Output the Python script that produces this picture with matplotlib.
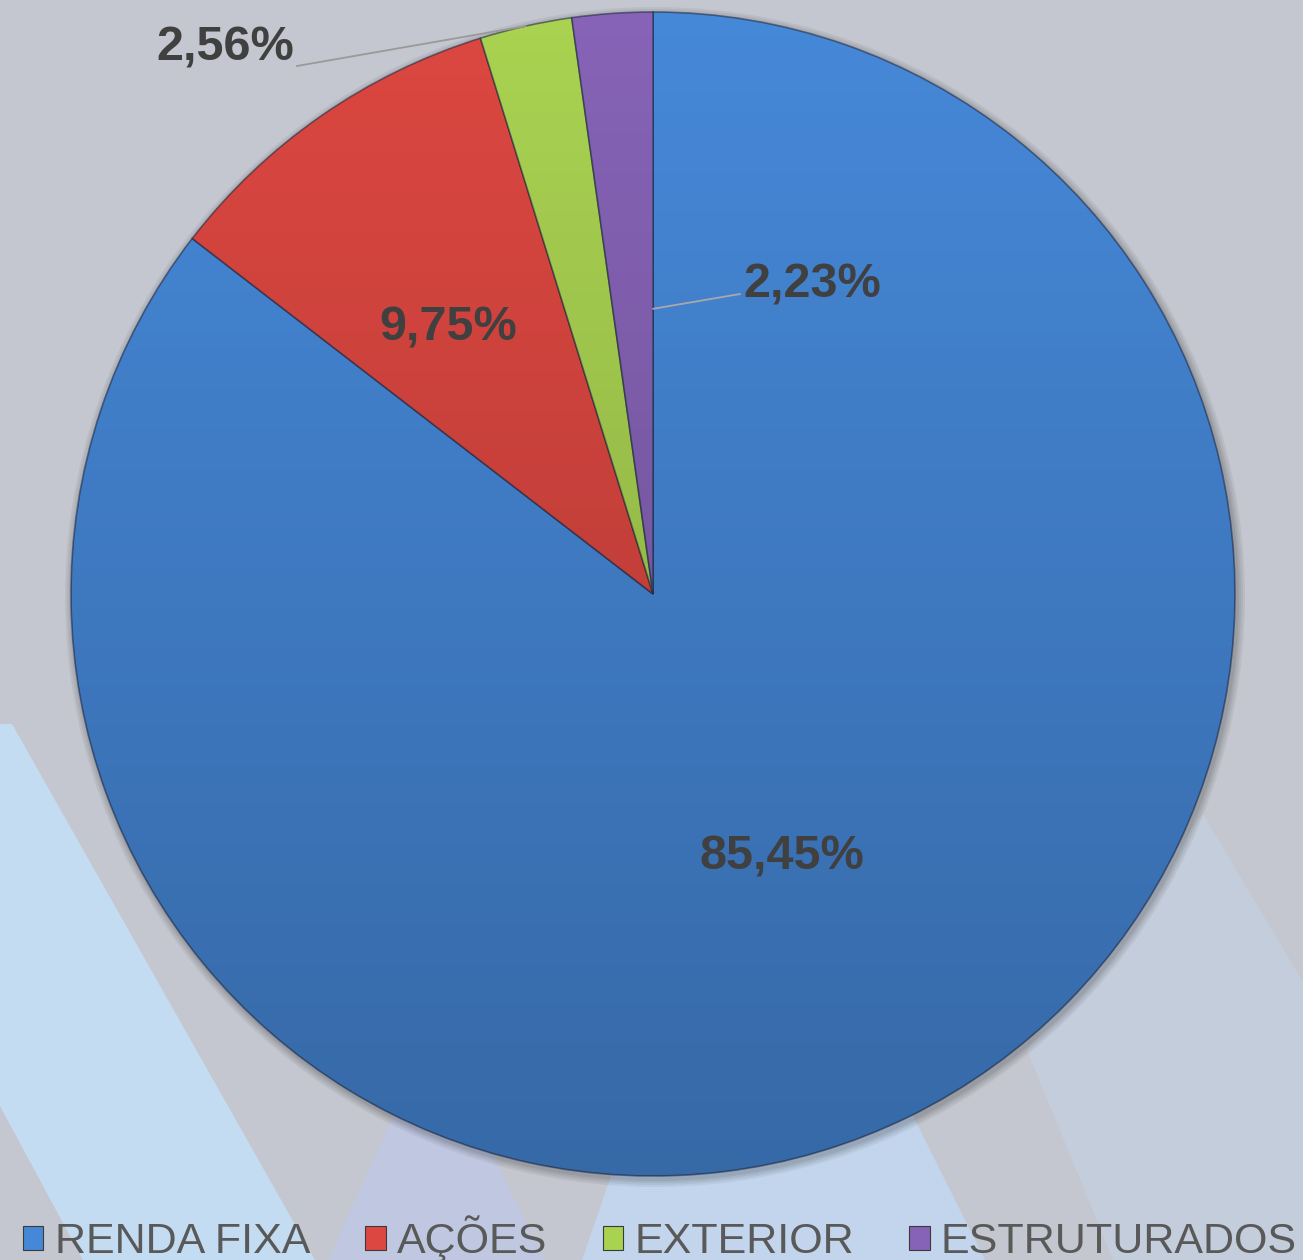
import numpy as np
import matplotlib
matplotlib.use("Agg")
import matplotlib.pyplot as plt
from matplotlib.patches import Polygon, Circle, Rectangle

# ---- data ----
categories = ["RENDA FIXA", "AÇÕES", "EXTERIOR", "ESTRUTURADOS"]
values = [85.45, 9.75, 2.56, 2.23]
value_labels = ["85,45%", "9,75%", "2,56%", "2,23%"]

# ---- style ----
colors = ["#4688d8", "#dc4741", "#a9d251", "#8663b6"]
bg = "#c4c7cf"
W, H = 1303, 1260
plt.rcParams["font.family"] = ["Liberation Sans", "DejaVu Sans"]

fig = plt.figure(figsize=(W / 100, H / 100), dpi=100, facecolor=bg)
ax = fig.add_axes([0, 0, 1, 1])
ax.set_facecolor(bg)

def flip(pts):
    return [(x, H - y) for x, y in pts]

# decorative background stripes
stripes = [
    ([(0, 724), (12, 724), (315, 1260), (83, 1260), (0, 1106)], "#c4dcf2"),
    ([(410, 1080), (455, 1080), (545, 1260), (328, 1260)], "#c0c8e1"),
    ([(620, 1150), (900, 1090), (985, 1260), (582, 1260)], "#c2d5ec"),
    ([(1027, 1050), (1203, 814), (1303, 982), (1303, 1260), (1113, 1260)], "#c4cddb"),
]
for pts, c in stripes:
    ax.add_patch(Polygon(flip(pts), closed=True, facecolor=c, edgecolor="none", zorder=0))

cx, cy, R = 653, H - 594, 582

# soft shadow
for i, a in enumerate([0.05, 0.05, 0.06, 0.07]):
    ax.add_patch(Circle((cx + 2, cy - 3), R + 8 - 2 * i, facecolor="black",
                        alpha=a, edgecolor="none", zorder=1))

wedges, _ = ax.pie(values, colors=colors, startangle=90, counterclock=False,
                   center=(cx, cy), radius=R,
                   wedgeprops=dict(edgecolor=(0.1, 0.15, 0.25, 0.55), linewidth=1.2))
for w in wedges:
    w.set_zorder(2)

# vertical shading gradient over the pie
grad = np.zeros((256, 2, 4))
grad[:, :, 3] = np.linspace(0.0, 0.23, 256)[:, None]
im = ax.imshow(grad, extent=(cx - R, cx + R, cy - R, cy + R), origin="upper",
               zorder=3, interpolation="bilinear")
clip = Circle((cx, cy), R, transform=ax.transData)
im.set_clip_path(clip)

ax.set_xlim(0, W)
ax.set_ylim(0, H)
ax.set_aspect("equal")
ax.axis("off")

# angles
total = sum(values)
cum = np.concatenate([[0], np.cumsum(values)])
starts = 90 - 360 * cum[:-1] / total
ends = 90 - 360 * cum[1:] / total
mids = (starts + ends) / 2

def polar(ang, rf):
    t = np.deg2rad(ang)
    return cx + rf * R * np.cos(t), cy + rf * R * np.sin(t)

lab_kw = dict(fontsize=35, fontweight="bold", color="#404040", zorder=6)

# inside labels
for i, (rf, dth) in zip([0, 1], [(0.503, 0.0), (0.577, 2.8)]):
    x, y = polar(mids[i] + dth, rf)
    ax.text(x, y, value_labels[i], ha="center", va="center", **lab_kw)

# outside label for EXTERIOR
tx, ty = polar(128.1, 1.192)
ax.annotate(value_labels[2], xy=polar(mids[2], 1.0), xytext=(tx, ty),
            ha="center", va="center",
            arrowprops=dict(arrowstyle="-", color="#9a9a9a", lw=1.3,
                            shrinkA=0, shrinkB=0, relpos=(1.02, 0.1)),
            **lab_kw)

# label for ESTRUTURADOS
tx, ty = polar(62.8, 0.597)
ax.annotate(value_labels[3], xy=polar(ends[3], 0.49), xytext=(tx, ty),
            ha="center", va="center",
            arrowprops=dict(arrowstyle="-", color="#a8a8a8", lw=1.3,
                            shrinkA=0, shrinkB=0, relpos=(-0.02, 0.3)),
            **lab_kw)

# legend
handles = [Rectangle((0, 0), 1, 1, facecolor=c, edgecolor="#3a3a3a", linewidth=0.8)
           for c in colors]
leg = fig.legend(handles, categories, loc="lower center", ncol=4,
                 bbox_to_anchor=(660 / W, -2 / H), frameon=False,
                 fontsize=31, labelcolor="#595959",
                 handlelength=0.47, handleheight=0.47, handletextpad=0.26,
                 columnspacing=1.29, borderpad=0.0, borderaxespad=0.0)

fig.savefig("out.png", dpi=100, facecolor=bg)
